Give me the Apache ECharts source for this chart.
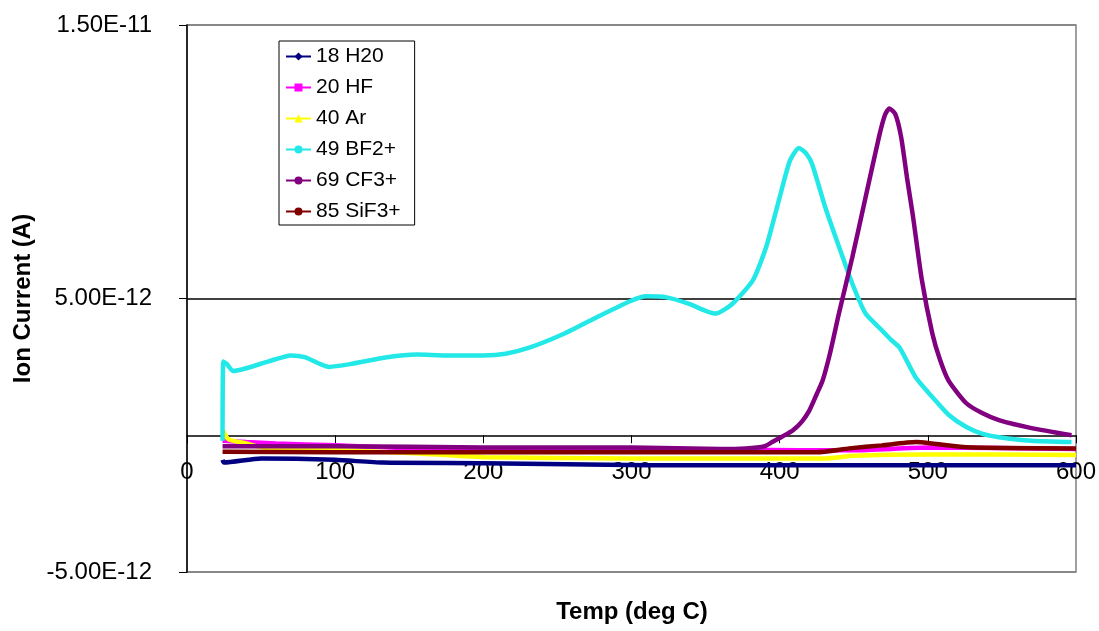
<!DOCTYPE html>
<html lang="en">
<head>
    <meta charset="UTF-8">
    <title>Ion Current vs Temp</title>
    <script src="https://cdnjs.cloudflare.com/ajax/libs/echarts/6.0.0/echarts.min.js"></script>
    <style>
        html, body { margin: 0; padding: 0; background: #fff; }
        #main { width: 1099px; height: 631px; }
    </style>
</head>
<body>
    <div id="main"></div>
    <script>
        // values, current in units of 1E-12 A
        const seriesNames = ["18 H20", "20 HF", "40 Ar", "49 BF2+", "69 CF3+", "85 SiF3+"];
        const seriesColors = ["#000080", "#ff00ff", "#ffff00", "#22e8e8", "#800080", "#800000"];
        const seriesSymbols = ["diamond", "rect", "triangle", "circle", "circle", "circle"];

        const h2oTemp = [24, 25, 50, 100, 132, 200, 312, 400, 600];
        const h2oVals = [-0.9, -1.0, -0.85, -0.9, -1.0, -1.02, -1.1, -1.1, -1.1];

        const hfTemp = [24, 40, 60, 100, 155, 200, 300, 413, 450, 500, 600];
        const hfVals = [-0.2, -0.25, -0.3, -0.37, -0.48, -0.5, -0.5, -0.55, -0.55, -0.45, -0.5];

        const arTemp = [24, 28, 40, 54, 100, 150, 200, 300, 430, 450, 500, 600];
        const arVals = [0.2, -0.15, -0.3, -0.48, -0.55, -0.65, -0.8, -0.85, -0.85, -0.75, -0.7, -0.72];

        const bf2Temp = [24, 24.5, 27, 31, 40, 55, 70, 80, 90, 96, 110, 135, 155, 175, 200, 215, 231, 254, 276, 299,
            310, 323, 339, 350, 357, 368, 382, 391, 400, 407, 413, 418, 422, 431, 440, 449, 458, 469, 475, 481,
            492, 503, 514, 526, 537, 548, 570, 597];
        const bf2Vals = [-0.2, 2.7, 2.6, 2.35, 2.45, 2.7, 2.92, 2.85, 2.6, 2.5, 2.6, 2.85, 2.95, 2.92, 2.92, 2.98, 3.2, 3.7, 4.3, 4.9,
            5.08, 5.05, 4.8, 4.55, 4.45, 4.8, 5.67, 6.9, 8.7, 10.05, 10.5, 10.3, 9.9, 8.3, 6.9, 5.55, 4.45, 3.84, 3.5, 3.2,
            2.1, 1.4, 0.75, 0.3, 0.05, -0.07, -0.2, -0.25];

        const cf3Temp = [24, 100, 200, 300, 360, 377, 390, 395, 400, 405, 409, 415, 420, 425, 429, 434, 440, 449, 458, 467,
            471, 474, 478, 482, 486, 490, 496, 503, 508, 514, 526, 537, 548, 570, 597];
        const cf3Vals = [-0.4, -0.4, -0.45, -0.45, -0.5, -0.48, -0.4, -0.25, -0.1, 0.05, 0.18, 0.5, 0.9, 1.5, 2.0, 3.0, 4.45, 6.5, 8.7, 10.9,
            11.7, 11.95, 11.75, 10.9, 9.4, 8.0, 5.67, 3.73, 2.8, 2.0, 1.17, 0.8, 0.55, 0.26, 0.0];

        const sif3Temp = [24, 100, 300, 425, 447, 469, 492, 503, 526, 600];
        const sif3Vals = [-0.6, -0.62, -0.62, -0.62, -0.48, -0.37, -0.25, -0.3, -0.44, -0.48];

        const allTemps = [h2oTemp, hfTemp, arTemp, bf2Temp, cf3Temp, sif3Temp];
        const allVals = [h2oVals, hfVals, arVals, bf2Vals, cf3Vals, sif3Vals];

        const chart = echarts.init(document.getElementById('main'));

        const series = seriesNames.map((name, k) => ({
            name: name,
            type: 'line',
            data: allTemps[k].map((t, i) => [t, allVals[k][i] * 1e-12]),
            showSymbol: false,
            symbol: seriesSymbols[k],
            symbolSize: 5,
            smooth: 0.2,
            color: seriesColors[k],
            lineStyle: { width: 4.5, color: seriesColors[k] }
        }));

        const option = {
            animation: false,
            backgroundColor: '#fff',
            textStyle: { fontFamily: 'Liberation Sans, Arial, sans-serif' },
            grid: {
                left: 187, right: 22, top: 25, bottom: 59,
                show: true, borderColor: '#808080', borderWidth: 1.5, backgroundColor: '#fff'
            },
            legend: {
                orient: 'vertical',
                left: 279, top: 41,
                padding: [5, 14, 3, 6],
                itemGap: 10,
                itemWidth: 25,
                itemHeight: 10,
                backgroundColor: '#fff',
                borderColor: '#000',
                borderWidth: 1,
                borderRadius: 0,
                textStyle: { fontSize: 21, lineHeight: 20, color: '#000' },
                data: seriesNames
            },
            xAxis: {
                type: 'value',
                min: 0, max: 600, interval: 100,
                axisLine: { onZero: true, lineStyle: { color: '#000', width: 1.5 } },
                axisTick: { length: 8, lineStyle: { color: '#000' } },
                // labels sit just under the zero line, as in the picture
                axisLabel: { fontSize: 24, color: '#000', margin: -112 },
                splitLine: { show: false }
            },
            yAxis: {
                type: 'value',
                min: -5e-12, max: 1.5e-11, interval: 1e-11,
                name: 'Ion Current (A)',
                nameLocation: 'middle',
                nameGap: 136,
                nameTextStyle: { fontSize: 24, fontWeight: 'bold', color: '#000' },
                axisLine: { show: true, lineStyle: { color: '#000', width: 1.5 } },
                axisTick: { show: true, length: 8, lineStyle: { color: '#000' } },
                axisLabel: {
                    fontSize: 24, color: '#000', margin: 35,
                    formatter: v => v.toExponential(2).toUpperCase()
                },
                splitLine: { show: true, lineStyle: { color: ['#808080', '#000', '#808080'], width: 1.5 } }
            },
            graphic: [{
                type: 'text',
                x: 632, y: 612,
                style: {
                    text: 'Temp (deg C)',
                    fill: '#000',
                    font: 'bold 24px Liberation Sans, Arial, sans-serif',
                    textAlign: 'center',
                    textVerticalAlign: 'middle'
                }
            }],
            series: series
        };

        chart.setOption(option);
    </script>
</body>
</html>
